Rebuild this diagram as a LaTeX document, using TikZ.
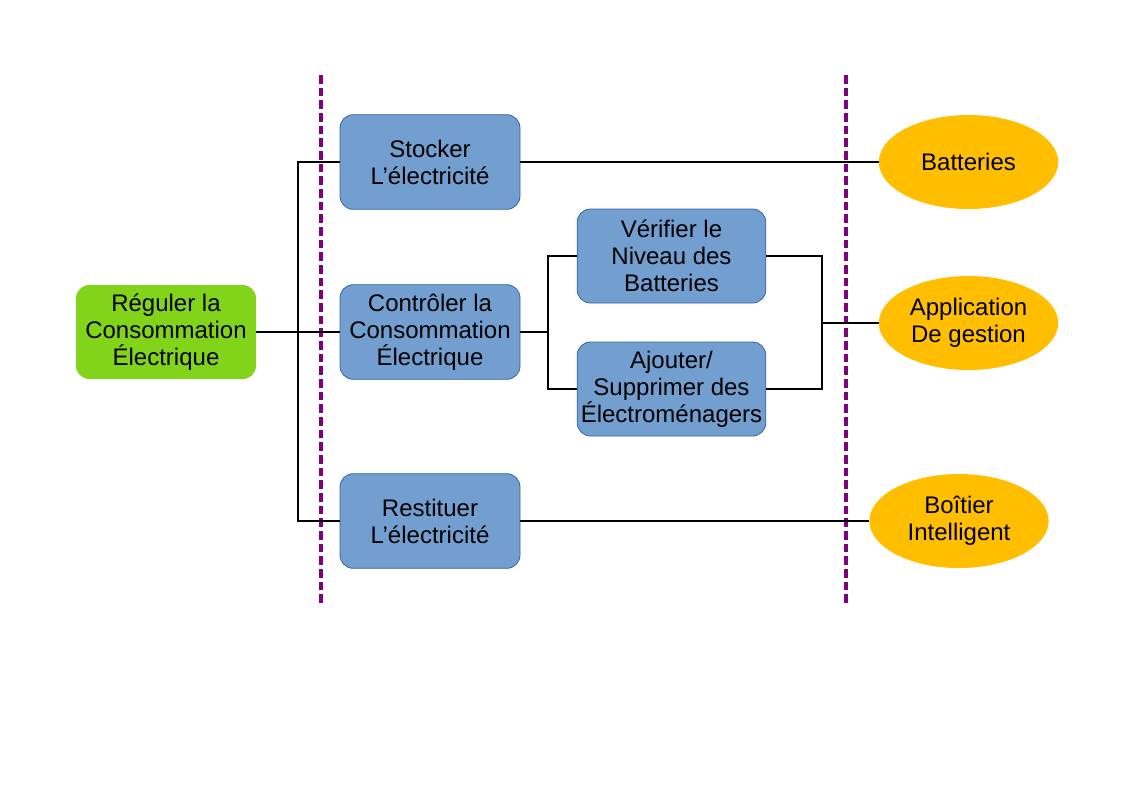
\documentclass[tikz,border=0pt]{standalone}
\usepackage{fontspec}
\setmainfont{Liberation Sans}
\usetikzlibrary{shapes.geometric}
\definecolor{boxblue}{HTML}{729FCF}
\definecolor{edgeblue}{HTML}{3465A4}
\definecolor{rootgreen}{HTML}{81D41A}
\definecolor{leafgold}{HTML}{FFBF00}
\definecolor{seppurple}{HTML}{800080}
\begin{document}
\begin{tikzpicture}[x=0.75pt,y=-0.75pt,
  txt/.style={font=\fontsize{18}{20.3}\selectfont, align=center, text=black, inner sep=0pt},
  taskbox/.style={txt, draw=edgeblue, line width=0.6pt, fill=boxblue, rounded corners=10pt,
                  minimum width=135pt, minimum height=71pt},
  subbox/.style={taskbox, minimum width=141.5pt, minimum height=70.5pt},
  rootbox/.style={txt, fill=rootgreen, rounded corners=10pt,
                  minimum width=135pt, minimum height=70.5pt},
  leaf/.style={txt, ellipse, fill=leafgold, minimum width=134.5pt, minimum height=70.5pt},
  wire/.style={draw=black, line width=1.3pt},
  divider/.style={draw=seppurple, line width=2.4pt, dash pattern=on 6.5pt off 3pt}]

% page frame
\useasboundingbox (0,0) rectangle (1123,794);

% boundary lines
\draw[divider] (321,75) -- (321,605);
\draw[divider] (846,75) -- (846,605);

% root function
\node[rootbox] (root) at (166,332) {Réguler la\\Consommation\\Électrique};

% main functions
\node[taskbox] (stock) at (430,162) {Stocker\\L’électricité};
\node[taskbox] (ctrl)  at (430,332) {Contrôler la\\Consommation\\Électrique};
\node[taskbox] (rest)  at (430,521) {Restituer\\L’électricité};

% sub-functions
\node[subbox] (verif) at (671.5,256) {Vérifier le\\Niveau des\\Batteries};
\node[subbox] (ajout) at (671.5,389) {Ajouter/\\Supprimer des\\Électroménagers};

% solutions
\node[leaf] (batt) at (968.5,162) {Batteries};
\node[leaf] (app)  at (968.5,323) {Application\\De gestion};
\node[leaf] (boit) at (959,521)   {Boîtier\\Intelligent};

% connectors
\coordinate (jr) at (298,332);
\coordinate (jc) at (548,332);
\coordinate (ja) at (822,323);

\draw[wire] (root.east) -- (ctrl.west);
\draw[wire] (stock.west) -| (jr) |- (rest.west);
\draw[wire] (stock.east) -- (batt.west);
\draw[wire] (rest.east) -- (boit.west);
\draw[wire] (ctrl.east) -- (jc);
\draw[wire] (verif.west) -| (jc) |- (ajout.west);
\draw[wire] (verif.east) -| (ja) |- (ajout.east);
\draw[wire] (ja) -- (app.west);
\end{tikzpicture}
\end{document}
